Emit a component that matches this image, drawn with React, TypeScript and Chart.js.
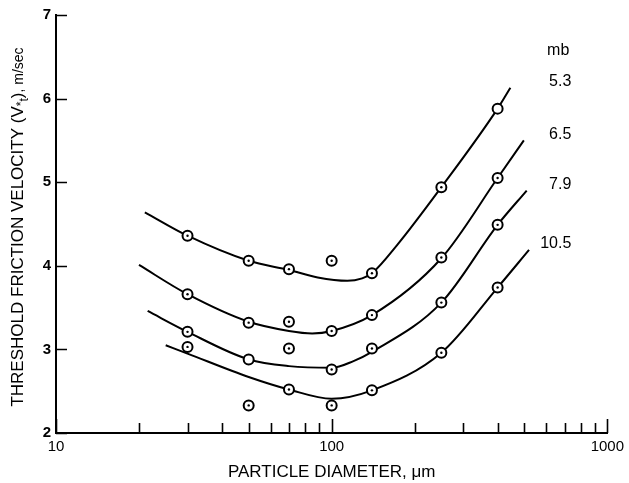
import React, { useEffect, useRef } from 'react';
import { Chart, registerables } from 'chart.js';

Chart.register(...registerables);

// ---- data ----
const PRESSURES = ['5.3', '6.5', '7.9', '10.5'];
const PRESSURE_UNIT = 'mb';

const DIAMETERS = [30, 50, 70, 100, 140, 250, 400];
const MEASURED_53 = [4.36, 4.06, 3.96, 4.06, 3.91, 4.94, 5.88];
const MEASURED_65 = [3.66, 3.32, 3.33, 3.22, 3.41, 4.10, 5.05];
const MEASURED_79 = [3.21, 2.88, 3.01, 2.76, 3.01, 3.56, 4.49];
const MEASURED_105 = [3.03, 2.33, 2.52, 2.33, 2.51, 2.96, 3.74];
// points drawn as open circles without centre dot: [series index, diameter]
const HOLLOW = [[0, 400], [2, 50]];

// fitted curves
const FIT_X_53 = [21, 30, 50, 70, 89, 114, 129, 140, 173, 250, 400, 445];
const FIT_Y_53 = [4.64, 4.36, 4.06, 3.95, 3.86, 3.82, 3.85, 3.91, 4.25, 4.94, 5.88, 6.13];
const FIT_X_65 = [20, 30, 50, 70, 85, 100, 140, 250, 400, 498];
const FIT_Y_65 = [4.01, 3.66, 3.33, 3.22, 3.19, 3.22, 3.41, 4.09, 5.05, 5.50];
const FIT_X_79 = [21.5, 30, 50, 70, 100, 120, 140, 250, 400, 510];
const FIT_Y_79 = [3.46, 3.21, 2.88, 2.80, 2.78, 2.86, 2.97, 3.56, 4.49, 4.90];
const FIT_X_105 = [25, 30, 50, 70, 100, 140, 250, 400, 520];
const FIT_Y_105 = [3.05, 2.95, 2.67, 2.52, 2.41, 2.51, 2.96, 3.74, 4.19];

const X_MAJOR = [10, 100, 1000];
const X_MINOR = [20, 30, 40, 50, 60, 70, 80, 90, 200, 300, 400, 500, 600, 700, 800, 900];
const Y_TICKS = [2, 3, 4, 5, 6, 7];

const X_TITLE = 'PARTICLE DIAMETER, \u03BCm';
// y title pieces: [text, font size, baseline shift]
const Y_TITLE_PARTS: [string, number, number][] = [
  ['THRESHOLD FRICTION VELOCITY (V', 17, 0],
  ['*', 12, 2],
  ['t', 12, 5],
  [')', 17, 0],
  [', m/sec', 14, 0],
];

const FONT = "'Liberation Sans', Arial, Helvetica, sans-serif";

const MEASURED = [MEASURED_53, MEASURED_65, MEASURED_79, MEASURED_105];
const FITS: [number[], number[]][] = [
  [FIT_X_53, FIT_Y_53],
  [FIT_X_65, FIT_Y_65],
  [FIT_X_79, FIT_Y_79],
  [FIT_X_105, FIT_Y_105],
];

const annotationPlugin = {
  id: 'inwardTicksAndLabels',
  afterDraw(chart: any) {
    const { ctx, chartArea, scales } = chart;
    const x = scales.x;
    const y = scales.y;
    ctx.save();
    ctx.strokeStyle = '#000';
    ctx.lineWidth = 1.6;
    ctx.beginPath();
    X_MINOR.forEach((v) => {
      const px = Math.round(x.getPixelForValue(v)) + 0.5;
      ctx.moveTo(px, chartArea.bottom);
      ctx.lineTo(px, chartArea.bottom - 10);
    });
    X_MAJOR.forEach((v) => {
      const px = Math.round(x.getPixelForValue(v)) + 0.5;
      ctx.moveTo(px, chartArea.bottom);
      ctx.lineTo(px, chartArea.bottom - 14);
    });
    Y_TICKS.forEach((v) => {
      const py = Math.round(y.getPixelForValue(v)) + 0.5;
      ctx.moveTo(chartArea.left, py);
      ctx.lineTo(chartArea.left + 11, py);
    });
    ctx.stroke();

    // series labels at the right
    ctx.fillStyle = '#000';
    ctx.font = `16px ${FONT}`;
    ctx.textAlign = 'right';
    ctx.textBaseline = 'middle';
    const lx = chartArea.right - 36;
    let firstY = 0;
    FITS.forEach(([, ys], i) => {
      const py = y.getPixelForValue(ys[ys.length - 1]) - 6;
      if (i === 0) firstY = py;
      ctx.fillText(PRESSURES[i], lx, py);
    });
    ctx.fillText(PRESSURE_UNIT, lx - 2, firstY - 31);

    // rotated y-axis title with subscript
    ctx.textAlign = 'left';
    ctx.textBaseline = 'alphabetic';
    let total = 0;
    Y_TITLE_PARTS.forEach(([t, size]) => {
      ctx.font = `${size}px ${FONT}`;
      total += ctx.measureText(t).width;
    });
    const cx = 16.5;
    const cy = (chartArea.top + chartArea.bottom) / 2 + 3;
    ctx.translate(cx, cy);
    ctx.rotate(-Math.PI / 2);
    let pos = -total / 2;
    Y_TITLE_PARTS.forEach(([t, size, shift]) => {
      ctx.font = `${size}px ${FONT}`;
      ctx.fillText(t, pos, 6.2 + shift);
      pos += ctx.measureText(t).width;
    });
    ctx.restore();
  },
};

export default function App() {
  const ref = useRef<HTMLCanvasElement | null>(null);

  useEffect(() => {
    if (!ref.current) return;
    const datasets: any[] = [];
    FITS.forEach(([xs, ys], i) => {
      datasets.push({
        type: 'line',
        label: `${PRESSURES[i]} ${PRESSURE_UNIT}`,
        data: xs.map((xv, j) => ({ x: xv, y: ys[j] })),
        borderColor: '#000',
        borderWidth: 2,
        pointRadius: 0,
        fill: false,
        cubicInterpolationMode: 'monotone',
        order: 3,
      });
    });
    MEASURED.forEach((vals, i) => {
      datasets.push({
        type: 'scatter',
        label: `measured ${PRESSURES[i]}`,
        data: DIAMETERS.map((d, j) => ({ x: d, y: vals[j] })),
        pointStyle: 'circle',
        pointRadius: 5,
        pointBorderWidth: 2,
        pointBackgroundColor: '#fff',
        pointBorderColor: '#000',
        showLine: false,
        order: 2,
      });
      datasets.push({
        type: 'scatter',
        label: `centre ${PRESSURES[i]}`,
        data: DIAMETERS.filter((d) => !HOLLOW.some(([s, hd]) => s === i && hd === d)).map((d) => ({
          x: d,
          y: vals[DIAMETERS.indexOf(d)],
        })),
        pointStyle: 'circle',
        pointRadius: 1.2,
        pointBorderWidth: 0,
        pointBackgroundColor: '#000',
        showLine: false,
        order: 1,
      });
    });

    const chart = new Chart(ref.current, {
      type: 'line',
      data: { datasets },
      plugins: [annotationPlugin],
      options: {
        animation: false,
        responsive: false,
        layout: { padding: { top: 15, right: 17, left: 0, bottom: 0 } },
        plugins: { legend: { display: false }, tooltip: { enabled: false } },
        scales: {
          x: {
            type: 'logarithmic',
            min: 10,
            max: 1000,
            grid: { display: false, drawTicks: false },
            border: { display: true, color: '#000', width: 2 },
            afterBuildTicks: (s: any) => {
              s.ticks = X_MAJOR.map((v) => ({ value: v }));
            },
            afterFit: (s: any) => {
              s.height = 50;
            },
            ticks: {
              autoSkip: false,
              maxRotation: 0,
              padding: 5,
              color: '#000',
              font: { family: FONT, size: 15 },
              callback: (v: any) => String(v),
            },
            title: {
              display: true,
              text: X_TITLE,
              color: '#000',
              font: { family: FONT, size: 17 },
              padding: { top: 0, bottom: 0 },
            },
          },
          y: {
            type: 'linear',
            min: 2,
            max: 7,
            grid: { display: false, drawTicks: false },
            border: { display: true, color: '#000', width: 2 },
            afterBuildTicks: (s: any) => {
              s.ticks = Y_TICKS.map((v) => ({ value: v }));
            },
            afterFit: (s: any) => {
              s.width = 56;
            },
            ticks: {
              padding: 5,
              color: '#000',
              font: { family: FONT, size: 15, weight: 'bold' },
            },
            title: { display: false },
          },
        },
      },
    });
    return () => chart.destroy();
  }, []);

  return (
    <div style={{ position: 'fixed', left: 0, top: 0, width: 629, height: 483, background: '#fff' }}>
      <canvas ref={ref} width={629} height={483} style={{ display: 'block' }} />
    </div>
  );
}
